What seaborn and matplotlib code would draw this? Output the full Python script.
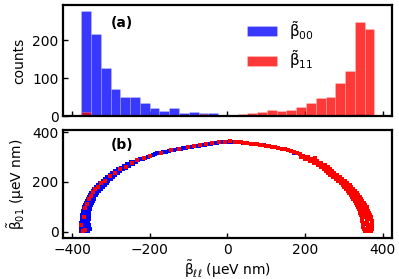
import numpy as np
import pandas as pd
import matplotlib
matplotlib.use("Agg")
import matplotlib.pyplot as plt
import seaborn as sns

# histogram of beta_ll for the two groups (30 common bins)
bin_edges = np.linspace(-376, 379, 31)
blue_counts = [276, 216, 127, 72, 51, 49, 35, 20, 13, 22, 7, 11, 9, 9, 3,
               2, 3, 2, 1, 1, 1, 1, 1, 1, 2, 2, 4, 2, 6, 1]
red_counts = [10, 3, 4, 2, 1, 1, 1, 2, 1, 2, 3, 3, 5, 3, 4,
              3, 5, 7, 10, 16, 13, 16, 23, 34, 47, 49, 86, 118, 247, 228]

# scatter points (beta_ll, beta_01)
blue_x = [-378, -368, -358, -374, -364, -354, -377, -367, -357, -375, -366, -357,
          -376, -367, -358, -374, -366, -358, -375, -366, -357, -373, -365, -357,
          -373, -365, -356, -372, -364, -355, -371, -363, -355, -370, -362, -354,
          -369, -361, -353, -367, -359, -351, -365, -357, -349, -362, -355, -347,
          -360, -352, -344, -357, -350, -342, -354, -347, -339, -350, -343, -335,
          -346, -339, -331, -342, -334, -326, -337, -329, -321, -332, -324, -316,
          -327, -319, -311, -321, -314, -306, -315, -308, -300, -309, -302, -294,
          -302, -295, -288, -296, -289, -282, -289, -282, -275, -282, -275, -268,
          -274, -267, -260, -266, -259, -252, -257, -250, -243, -248, -241, -234,
          -230, -225, -218, -212, -205, -200, -192, -186, -180, -172, -165, -158,
          -150, -143, -136, -128, -120, -113, -106, -98, -90, -82, -74, -66,
          -58, -50, -42, -34, -26, -18, -8, 2, 12,
          25, 40, 62, 95, 130, 172, 205, 255, 268, 300, 305, 330, 345, 358, 360]
blue_y = [2, 2, 2, 10, 10, 10, 18, 18, 18, 26, 26, 26,
          34, 34, 34, 42, 42, 42, 50, 50, 50, 58, 58, 58,
          66, 66, 66, 74, 74, 74, 82, 82, 82, 90, 90, 90,
          98, 98, 98, 106, 106, 106, 114, 114, 114, 122, 122, 122,
          130, 130, 130, 138, 138, 138, 146, 146, 146, 154, 154, 154,
          162, 162, 162, 170, 170, 170, 178, 178, 178, 186, 186, 186,
          194, 194, 194, 202, 202, 202, 210, 210, 210, 218, 218, 218,
          226, 226, 226, 234, 234, 234, 242, 242, 242, 250, 250, 250,
          258, 258, 258, 266, 266, 266, 274, 274, 274, 282, 282, 282,
          288, 294, 293, 298, 302, 306, 307, 312, 315, 316, 320, 322,
          324, 328, 328, 332, 333, 336, 336, 340, 342, 343, 346, 348,
          349, 352, 354, 356, 358, 360, 360, 362, 360,
          361, 358, 354, 347, 336, 318, 297, 250, 240, 195, 188, 148, 118, 30, 8]

red_x = [-372, -366, -376, -370, -366, -362, -356, -352, -346, -340, -334, -324,
         -316, -302, -290, -276, -262, -246, -232, -214, -198, -170, -145, -125,
         -102, -86, -70, -54, -38, -22, -6, 8, 20, 30,
         36, 44, 52, 60, 68, 76, 84, 92, 100, 108, 116, 124, 132, 140, 148, 156,
         164, 172, 180, 188, 196,
         190, 199, 208, 201, 210, 219, 213, 222, 231, 223, 232, 241, 233, 242, 251,
         241, 250, 259, 248, 256, 264, 254, 262, 270, 260, 268, 276, 266, 274, 282,
         272, 281, 290, 280, 288, 296, 286, 295, 304, 292, 300, 308, 297, 306, 315,
         302, 311, 320, 307, 316, 325, 311, 320, 329, 314, 324, 334, 318, 328, 338,
         321, 331, 341, 325, 335, 345, 328, 338, 348, 331, 342, 353, 334, 345, 356,
         337, 348, 359, 339, 350, 361, 341, 352, 363, 343, 354, 365, 345, 356, 367,
         346, 358, 370, 347, 359, 371, 348, 360, 372, 349, 361, 373, 350, 362, 374,
         351, 362, 374, 352, 362, 373, 354, 362, 370, 227]
red_y = [4, 8, 25, 60, 95, 110, 130, 145, 160, 170, 180, 195,
         205, 222, 235, 250, 262, 278, 288, 298, 306, 318, 327, 332,
         340, 344, 347, 352, 355, 359, 361, 363, 362, 362,
         360, 357, 357, 354, 354, 351, 350, 348, 346, 344, 342, 339, 337, 333, 331, 327,
         324, 320, 316, 312, 306,
         300, 300, 300, 292, 292, 292, 284, 284, 284, 276, 276, 276, 268, 268, 268,
         260, 260, 260, 252, 252, 252, 244, 244, 244, 236, 236, 236, 228, 228, 228,
         220, 220, 220, 212, 212, 212, 204, 204, 204, 196, 196, 196, 188, 188, 188,
         180, 180, 180, 172, 172, 172, 164, 164, 164, 156, 156, 156, 148, 148, 148,
         140, 140, 140, 132, 132, 132, 124, 124, 124, 116, 116, 116, 108, 108, 108,
         100, 100, 100, 92, 92, 92, 84, 84, 84, 76, 76, 76, 68, 68, 68,
         60, 60, 60, 52, 52, 52, 44, 44, 44, 36, 36, 36, 28, 28, 28,
         20, 20, 20, 12, 12, 12, 4, 4, 4, 297]

sns.set_style("ticks")
plt.rcParams["font.family"] = ["DejaVu Sans"]
plt.rcParams["mathtext.default"] = "regular"
plt.rcParams["axes.edgecolor"] = "black"
plt.rcParams["axes.labelcolor"] = "black"
plt.rcParams["text.color"] = "black"
plt.rcParams["xtick.color"] = "black"
plt.rcParams["ytick.color"] = "black"
plt.rcParams["axes.linewidth"] = 1.6
plt.rcParams["xtick.direction"] = "in"
plt.rcParams["ytick.direction"] = "in"
plt.rcParams["xtick.major.size"] = 3.5
plt.rcParams["ytick.major.size"] = 3.5
plt.rcParams["xtick.major.width"] = 1.0
plt.rcParams["ytick.major.width"] = 1.0

fig = plt.figure(figsize=(3.99, 2.79), dpi=100)
ax1 = fig.add_axes([0.159, 0.584, 0.823, 0.398])
ax2 = fig.add_axes([0.159, 0.146, 0.823, 0.388], sharex=ax1)

centers = 0.5 * (bin_edges[:-1] + bin_edges[1:])
hist_df = pd.DataFrame({"x": centers, "blue": blue_counts, "red": red_counts})
edges = list(bin_edges)
sns.histplot(data=hist_df, x="x", weights="blue", bins=edges, color="blue",
             alpha=0.78, edgecolor=(1, 1, 1, 0.35), linewidth=0.4, ax=ax1,
             label=r"$\tilde{\beta}_{00}$")
sns.histplot(data=hist_df, x="x", weights="red", bins=edges, color="red",
             alpha=0.78, edgecolor=(1, 1, 1, 0.35), linewidth=0.4, ax=ax1,
             label=r"$\tilde{\beta}_{11}$")
ax1.set_ylim(0, 292)
ax1.set_yticks([0, 100, 200])
ax1.set_ylabel("counts", fontsize=10)
ax1.set_xlabel("")
ax1.tick_params(labelbottom=False, labelsize=10)
ax1.text(0.177, 0.842, "(a)", transform=ax1.transAxes, fontsize=10,
         fontweight="bold", ha="center", va="center")
ax1.legend(loc="center", bbox_to_anchor=(0.66, 0.64), frameon=False,
           fontsize=11, handlelength=2.0, handleheight=0.65,
           labelspacing=0.45, handletextpad=0.75)

sns.scatterplot(x=blue_x, y=blue_y, color="blue", s=6, marker="s",
                linewidth=0, ax=ax2)
sns.scatterplot(x=red_x, y=red_y, color="red", s=6, marker="s",
                linewidth=0, ax=ax2)
ax2.set_xlim(-422, 424)
ax2.set_ylim(-27, 409)
ax2.set_xticks([-400, -200, 0, 200, 400])
ax2.set_yticks([0, 200, 400])
ax2.tick_params(labelsize=10)
ax2.set_xlabel(r"$\tilde{\beta}_{\ell\ell}$ (μeV nm)", fontsize=10, labelpad=1)
ax2.set_ylabel(r"$\tilde{\beta}_{01}$ (μeV nm)", fontsize=10)
ax2.text(0.177, 0.857, "(b)", transform=ax2.transAxes, fontsize=10,
         fontweight="bold", ha="center", va="center")

fig.savefig("out.png", dpi=100)
